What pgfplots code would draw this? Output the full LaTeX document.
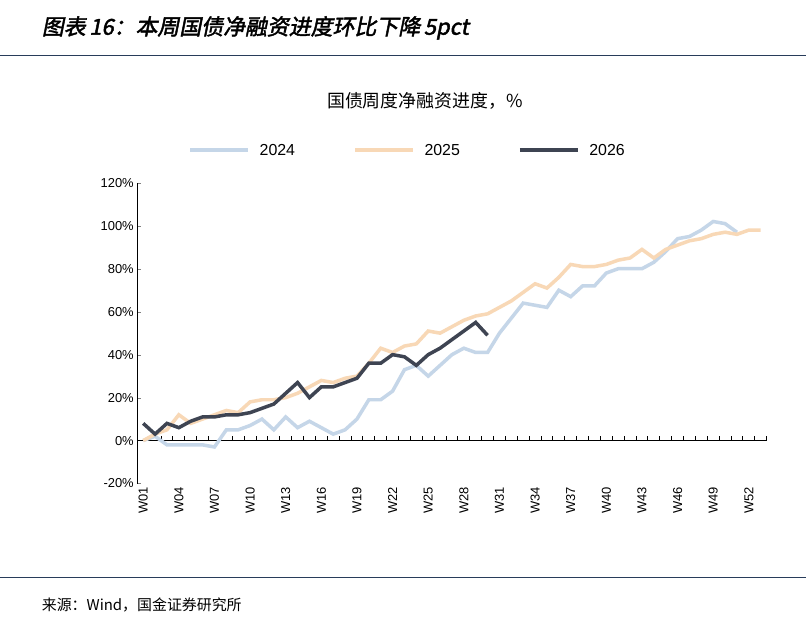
\documentclass[border=0pt]{standalone}
\usepackage{pgfplots}
\pgfplotsset{compat=1.18}
\usepackage{fontspec}
\setmainfont{Liberation Sans}
\newfontfamily\cjk{Noto Sans CJK SC}
\newfontfamily\cjktitle{Noto Sans CJK SC}[FakeSlant=0.2,FakeBold=2]
\definecolor{c24}{RGB}{197,214,232}
\definecolor{c25}{RGB}{248,216,182}
\definecolor{c26}{RGB}{62,68,82}
\definecolor{rule}{RGB}{40,60,90}
\begin{document}
\begin{tikzpicture}
\path[fill=white] (0bp,0bp) rectangle (806bp,625bp);
\node[anchor=west,font=\fontsize{22}{26}\selectfont\cjktitle] at (38bp,597bp) {图表\,16：本周国债净融资进度环比下降\,5pct};
\draw[rule,line width=0.8bp] (0bp,570bp) -- (806bp,570bp);
\draw[rule,line width=0.8bp] (0bp,47bp) -- (806bp,47bp);
\node[anchor=west,font=\fontsize{15}{18}\selectfont\cjk] at (38bp,19bp) {来源：Wind，国金证券研究所};
\node[font=\fontsize{18}{22}\selectfont\cjk] at (425bp,524bp) {国债周度净融资进度，\%};
\draw[c24,line width=4bp] (190bp,475bp) -- (248bp,475bp);
\node[anchor=west,font=\fontsize{16}{19}\selectfont] at (256bp,475bp) {2024};
\draw[c25,line width=4bp] (355bp,475bp) -- (413bp,475bp);
\node[anchor=west,font=\fontsize{16}{19}\selectfont] at (421bp,475bp) {2025};
\draw[c26,line width=4bp] (520bp,475bp) -- (578bp,475bp);
\node[anchor=west,font=\fontsize{16}{19}\selectfont] at (586bp,475bp) {2026};
\begin{axis}[at={(137bp,141bp)},anchor=south west,scale only axis,width=630bp,height=301bp,
 xmin=0.5,xmax=53.5,ymin=-20,ymax=120,
 axis y line*=left, axis x line*=bottom, x axis line style={draw=none},
 xtick={1,4,...,52},
 xticklabels={W01,W04,W07,W10,W13,W16,W19,W22,W25,W28,W31,W34,W37,W40,W43,W46,W49,W52},
 xticklabel style={rotate=90,anchor=east,font=\fontsize{13}{15}\selectfont},
 major x tick style={draw=none},
 ytick={-20,0,...,120},
 yticklabel={\pgfmathprintnumber{\tick}\%},
 /pgf/number format/assume math mode=true,
 yticklabel style={font=\fontsize{13}{15}\selectfont},
 tick align=inside, major tick length=4bp,
 y axis line style={line width=1bp},
 clip=false]
\draw[black,line width=1.2bp] (axis cs:0.5,0) -- (axis cs:53.5,0);
\pgfplotsinvokeforeach{1,...,53}{\draw[black,line width=1bp] (axis cs:#1+0.5,0) -- (axis cs:#1+0.5,2);}
\addplot[c24,line width=3.5bp,no marks] coordinates {(1,0)(2,2)(3,-2)(4,-2)(5,-2)(6,-2)(7,-3)(8,5)(9,5)(10,7)(11,10)(12,5)(13,11)(14,6)(15,9)(16,6)(17,3)(18,5)(19,10)(20,19)(21,19)(22,23)(23,33)(24,35)(25,30)(26,35)(27,40)(28,43)(29,41)(30,41)(31,50)(32,57)(33,64)(34,63)(35,62)(36,70)(37,67)(38,72)(39,72)(40,78)(41,80)(42,80)(43,80)(44,83)(45,88)(46,94)(47,95)(48,98)(49,102)(50,101)(51,97)};
\addplot[c25,line width=3.5bp,no marks] coordinates {(1,0)(2,3)(3,5)(4,12)(5,8)(6,10)(7,12)(8,14)(9,13)(10,18)(11,19)(12,19)(13,20)(14,22)(15,25)(16,28)(17,27)(18,29)(19,30)(20,36)(21,43)(22,41)(23,44)(24,45)(25,51)(26,50)(27,53)(28,56)(29,58)(30,59)(31,62)(32,65)(33,69)(34,73)(35,71)(36,76)(37,82)(38,81)(39,81)(40,82)(41,84)(42,85)(43,89)(44,85)(45,89)(46,91)(47,93)(48,94)(49,96)(50,97)(51,96)(52,98)(53,98)};
\addplot[c26,line width=3.5bp,no marks] coordinates {(1,8)(2,3)(3,8)(4,6)(5,9)(6,11)(7,11)(8,12)(9,12)(10,13)(11,15)(12,17)(13,22)(14,27)(15,20)(16,25)(17,25)(18,27)(19,29)(20,36)(21,36)(22,40)(23,39)(24,35)(25,40)(26,43)(27,47)(28,51)(29,55)(30,49)};
\end{axis}
\end{tikzpicture}
\end{document}
